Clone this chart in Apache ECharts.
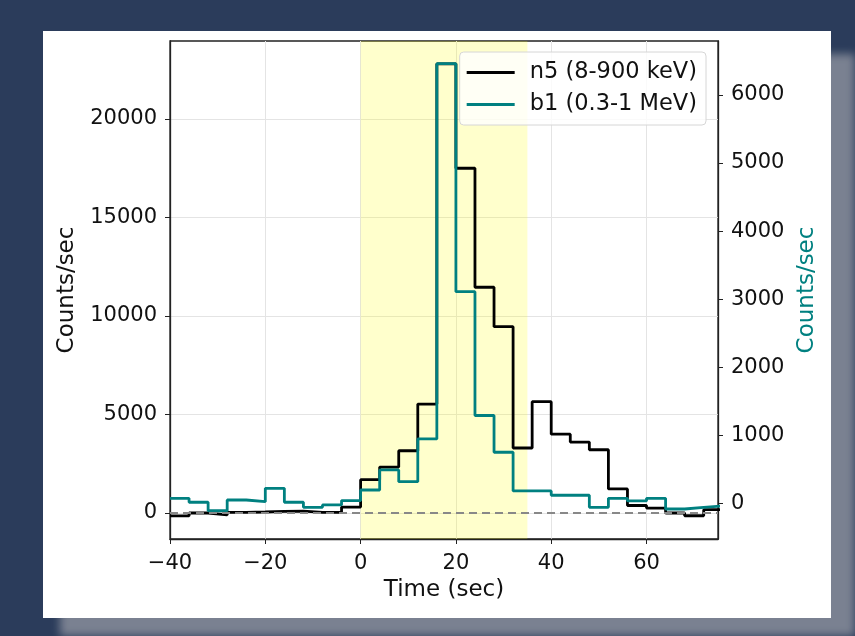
<!DOCTYPE html>
<html>
<head>
<meta charset="utf-8">
<script src="https://cdn.jsdelivr.net/npm/echarts@6/dist/echarts.min.js"></script>
<style>
  html, body { margin: 0; padding: 0; width: 855px; height: 636px; overflow: hidden; background: #2b3c5b; }
  #shade { position: absolute; left: 60px; top: 54px; right: 0; bottom: 0; background: #7a8191; filter: blur(4px); }
  #panel { position: absolute; left: 43px; top: 31px; width: 788px; height: 587px; background: #fff; }
  #main { position: absolute; left: 0; top: 0; width: 855px; height: 636px; }
</style>
</head>
<body>
<div id="shade"></div>
<div id="panel"></div>
<div id="main"></div>
<script>
// 4 s bins, left edge of each bin (sec)
var binStart = [-40, -36, -32, -28, -24, -20, -16, -12, -8, -4,
                0, 4, 8, 12, 16, 20, 24, 28, 32, 36,
                40, 44, 48, 52, 56, 60, 64, 68, 72];
var binWidth = 4;
// n5 (8-900 keV), left axis
var n5Rate = [-150, 0, -100, 30, 50, 80, 100, 30, 30, 300,
              1690, 2330, 3160, 5530, 22800, 17500, 11460, 9460, 3300, 5650,
              4000, 3600, 3210, 1220, 380, 250, 0, -140, 170];
// b1 (0.3-1 MeV), right axis
var b1Rate = [73, 15, -110, 48, 24, 220, 15, -59, -25, 40,
              195, 490, 318, 945, 6460, 3110, 1290, 750, 181, 181,
              118, 118, -59, 73, 34, 73, -84, -59, -40];

var xTicks = [-40, -20, 0, 20, 40, 60];
var leftTicks = [0, 5000, 10000, 15000, 20000];
var rightTicks = [0, 1000, 2000, 3000, 4000, 5000, 6000];
var shadeFrom = 0, shadeTo = 35;

// step 'post' style: hold each value until the next bin edge
function stepData(rates) {
    var d = binStart.map(function (t, i) { return [t, rates[i]]; });
    d.push([binStart[binStart.length - 1] + binWidth, rates[rates.length - 1]]);
    return d;
}
function plain(v) { return String(v).replace('-', '\u2212'); }

var font = 'DejaVu Sans';
var ink = '#111';
var myChart = echarts.init(document.getElementById('main'));

option = {
    backgroundColor: 'transparent',
    animation: false,
    textStyle: { fontFamily: font },
    grid: {
        left: 170, right: 137, top: 41, bottom: 97,
        show: true, borderColor: '#222', borderWidth: 1.3
    },
    legend: {
        orient: 'vertical',
        right: 149, top: 52,
        backgroundColor: 'rgba(255,255,255,0.8)',
        borderColor: '#d6d6d6', borderWidth: 1, borderRadius: 4,
        padding: [9, 9, 9, 7],
        itemGap: 9,
        itemWidth: 48, itemHeight: 3,
        icon: 'rect',
        textStyle: { fontFamily: font, fontSize: 22.5, lineHeight: 22, color: ink, padding: [0, 0, 0, 10] },
        data: ['n5 (8-900 keV)', 'b1 (0.3-1 MeV)']
    },
    xAxis: {
        type: 'value', min: -40, max: 75,
        name: 'Time (sec)', nameLocation: 'middle', nameGap: 40,
        nameTextStyle: { fontFamily: font, fontSize: 23, color: ink },
        axisLine: { show: true, onZero: false, lineStyle: { color: '#222', width: 1.3 } },
        axisTick: { show: true, length: 5, customValues: xTicks, lineStyle: { color: '#222' } },
        axisLabel: { customValues: xTicks, margin: 14, fontSize: 21, color: ink, formatter: plain },
        splitLine: { show: true, lineStyle: { color: '#e4e4e4', width: 1 } }
    },
    yAxis: [{
        type: 'value', min: -1320, max: 23960, position: 'left',
        name: 'Counts/sec', nameLocation: 'middle', nameGap: 91,
        nameTextStyle: { fontFamily: font, fontSize: 23, color: ink },
        axisLine: { show: true, onZero: false, lineStyle: { color: '#222', width: 1.3 } },
        axisTick: { show: true, length: 5, customValues: leftTicks, lineStyle: { color: '#222' } },
        axisLabel: { customValues: leftTicks, margin: 13, fontSize: 21, color: ink, formatter: plain },
        splitLine: { show: true, lineStyle: { color: '#e4e4e4', width: 1 } }
    }, {
        type: 'value', min: -525, max: 6793, position: 'right',
        name: 'Counts/sec', nameLocation: 'middle', nameGap: 76,
        nameTextStyle: { fontFamily: font, fontSize: 23, color: '#008080' },
        axisLine: { show: true, onZero: false, lineStyle: { color: '#222', width: 1.3 } },
        axisTick: { show: true, length: 5, customValues: rightTicks, lineStyle: { color: '#222' } },
        axisLabel: { customValues: rightTicks, margin: 13, fontSize: 21, color: ink, formatter: plain },
        splitLine: { show: false }
    }],
    series: [{
        name: 'n5 (8-900 keV)', type: 'line', yAxisIndex: 0,
        step: 'end', showSymbol: false, symbol: 'none',
        color: '#000',
        lineStyle: { color: '#000', width: 2.8 },
        data: stepData(n5Rate),
        markArea: {
            silent: true,
            itemStyle: { color: 'rgba(255,255,0,0.2)' },
            data: [[{ xAxis: shadeFrom }, { xAxis: shadeTo }]]
        },
        markLine: {
            silent: true, symbol: 'none', label: { show: false },
            lineStyle: { color: '#888', type: [8, 5], width: 1.8 },
            data: [{ yAxis: 0 }]
        }
    }, {
        name: 'b1 (0.3-1 MeV)', type: 'line', yAxisIndex: 1,
        step: 'end', showSymbol: false, symbol: 'none',
        color: '#008080',
        lineStyle: { color: '#008080', width: 2.8 },
        data: stepData(b1Rate)
    }]
};

myChart.setOption(option);
</script>
</body>
</html>
